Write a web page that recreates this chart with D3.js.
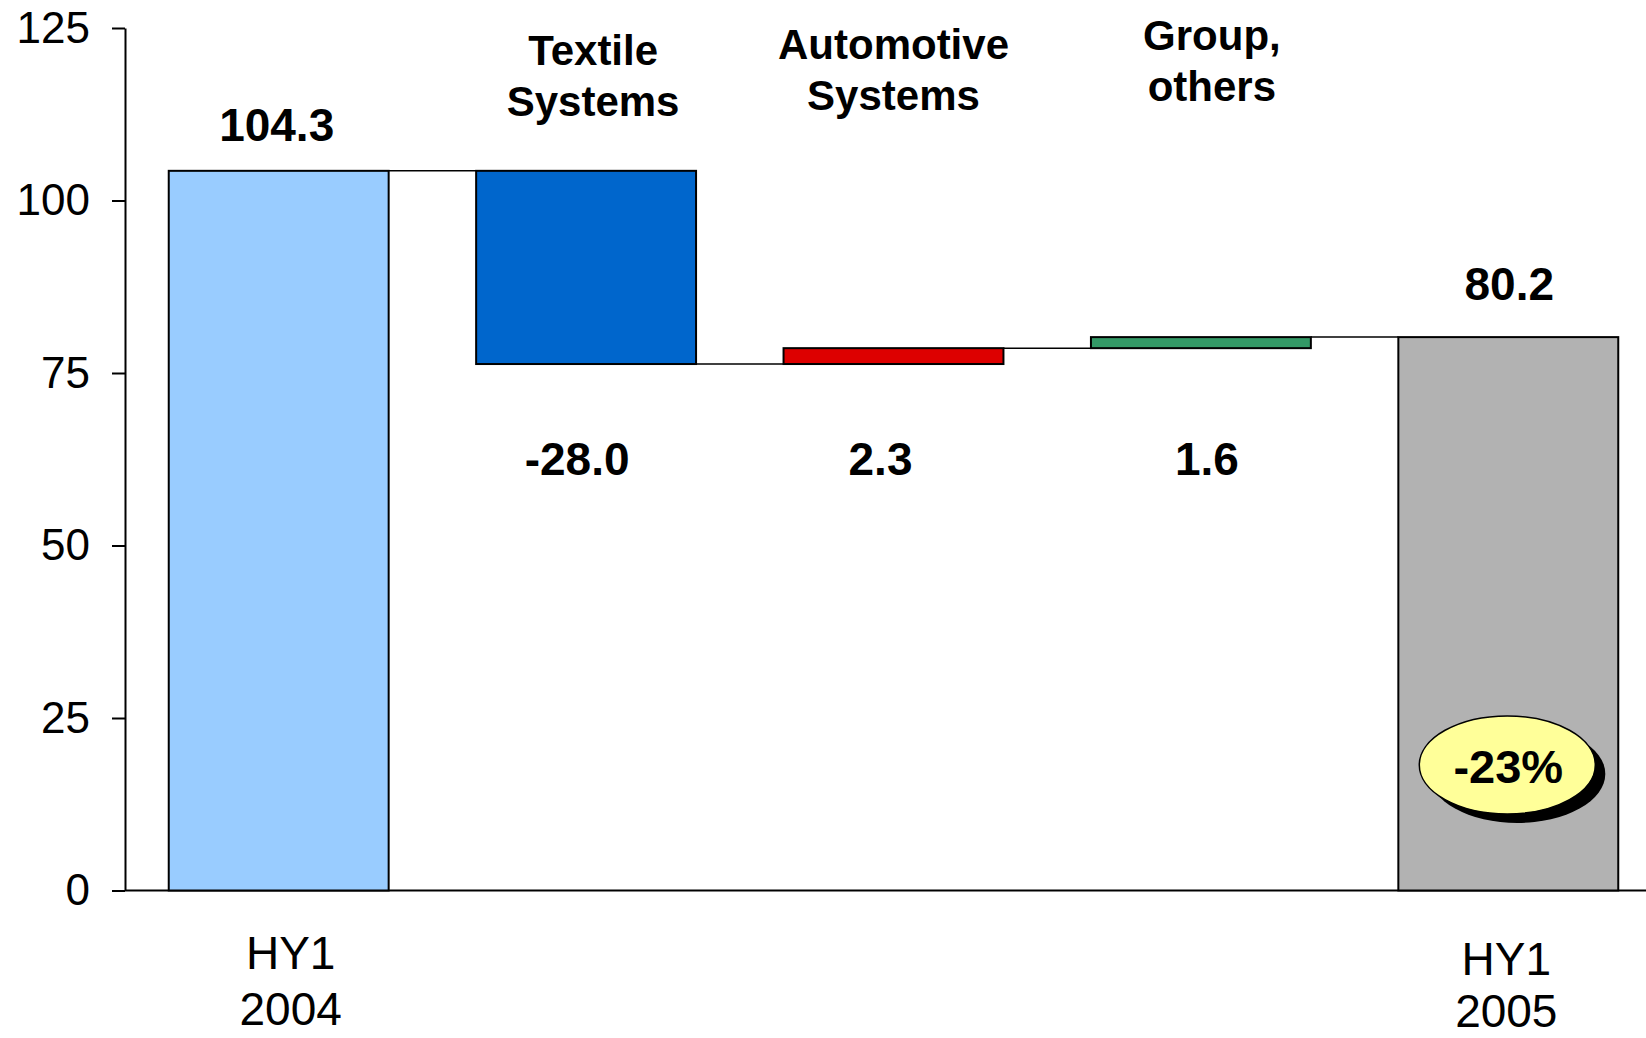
<!DOCTYPE html>
<html>
<head>
<meta charset="utf-8">
<script src="https://cdn.jsdelivr.net/npm/d3@7"></script>
<style>
  html, body { margin: 0; padding: 0; background: #ffffff; }
  svg { display: block; font-family: "Liberation Sans", Arial, Helvetica, sans-serif; }
</style>
</head>
<body>
<svg id="chart" width="1646" height="1038"></svg>
<script>
// ---- data ----
const categories = ["HY1 2004", "Textile Systems", "Automotive Systems", "Group, others", "HY1 2005"];
const categoryLines = [["HY1", "2004"], ["Textile", "Systems"], ["Automotive", "Systems"], ["Group,", "others"], ["HY1", "2005"]];
const barKinds = ["total", "delta", "delta", "delta", "total"];
const values = [104.3, -28.0, 2.3, 1.6, 80.2];
const yTicks = [0, 25, 50, 75, 100, 125];
const changeLabel = "-23%";

// ---- styling / layout ----
const width = 1646, height = 1038;
const fills = ["#99CCFF", "#0066CC", "#DD0000", "#339966", "#B2B2B2"];
const fontStack = '"Liberation Sans", Arial, Helvetica, sans-serif';

// small hand nudges for the text boxes around each bar
const nameDx = [12, 7, 0, 11, -2];        // category name offsets
const nameBaseline = [969, 65, 59, 50, 975];
const nameLineGap = [56, 51, 51, 51, 52];
const valueDx = [-2, -9, -13, 6, 1];      // value label offsets
const totalLabelGap = [30, 37];            // gap between total bar top and its value
const deltaLabelBaseline = 475;

const svg = d3.select("#chart");

const x = d3.scaleBand()
  .domain(categories)
  .range([125, 1662])
  .paddingInner(0.2846)
  .paddingOuter(0.1423);

const y = d3.scaleLinear()
  .domain([0, 125])
  .range([890.5, 28]);

const fmt = d3.formatLocale({ decimal: ".", thousands: ",", grouping: [3], currency: ["", ""], minus: "-" }).format(".1f");

// waterfall geometry: start/end level of every bar
let running = 0;
const bars = categories.map((c, i) => {
  let lo, hi, end;
  if (barKinds[i] === "total") {
    lo = 0; hi = values[i]; end = values[i];
  } else {
    const start = running;
    end = start + values[i];
    lo = Math.min(start, end); hi = Math.max(start, end);
  }
  running = end;
  return { cat: c, i, lo, hi, end, value: values[i], kind: barKinds[i] };
});

// ---- connectors between consecutive bars ----
svg.append("g")
  .selectAll("line")
  .data(bars.slice(0, -1))
  .join("line")
  .attr("x1", d => x(d.cat) + x.bandwidth())
  .attr("x2", d => x(categories[d.i + 1]))
  .attr("y1", d => y(d.end))
  .attr("y2", d => y(d.end))
  .attr("stroke", "#000")
  .attr("stroke-width", 1.5);

// ---- x baseline ----
svg.append("line")
  .attr("x1", 125).attr("x2", width)
  .attr("y1", y(0)).attr("y2", y(0))
  .attr("stroke", "#000").attr("stroke-width", 2);

// ---- bars ----
svg.append("g")
  .selectAll("rect")
  .data(bars)
  .join("rect")
  .attr("x", d => x(d.cat))
  .attr("width", x.bandwidth())
  .attr("y", d => y(d.hi))
  .attr("height", d => y(d.lo) - y(d.hi))
  .attr("fill", (d, i) => fills[i])
  .attr("stroke", "#000")
  .attr("stroke-width", 2);

// ---- y axis ----
const yAxis = svg.append("g")
  .attr("transform", "translate(125,0)")
  .call(d3.axisLeft(y).tickValues(yTicks).tickSize(13).tickSizeOuter(0).tickPadding(22));
yAxis.select(".domain").attr("stroke", "#000").attr("stroke-width", 2);
yAxis.selectAll(".tick line").attr("stroke", "#000").attr("stroke-width", 2);
yAxis.selectAll(".tick text")
  .attr("fill", "#000")
  .style("font-family", fontStack)
  .style("font-size", "44px");

// ---- value labels ----
svg.append("g")
  .selectAll("text")
  .data(bars)
  .join("text")
  .attr("text-anchor", "middle")
  .attr("x", d => x(d.cat) + x.bandwidth() / 2 + valueDx[d.i])
  .attr("y", d => d.kind === "total"
    ? y(d.hi) - totalLabelGap[d.i === 0 ? 0 : 1]
    : deltaLabelBaseline)
  .style("font-family", fontStack)
  .style("font-size", "46px")
  .style("font-weight", "bold")
  .text(d => fmt(d.value));

// ---- category names ----
const names = svg.append("g")
  .selectAll("text")
  .data(bars)
  .join("text")
  .attr("text-anchor", "middle")
  .attr("x", d => x(d.cat) + x.bandwidth() / 2 + nameDx[d.i])
  .attr("y", d => nameBaseline[d.i])
  .style("font-family", fontStack)
  .style("font-size", d => d.kind === "total" ? "46px" : "42px")
  .style("font-weight", d => d.kind === "total" ? "normal" : "bold");

names.selectAll("tspan")
  .data(d => categoryLines[d.i].map((t, k) => ({ t, k, d })))
  .join("tspan")
  .attr("x", e => x(e.d.cat) + x.bandwidth() / 2 + nameDx[e.d.i])
  .attr("dy", e => e.k === 0 ? 0 : nameLineGap[e.d.i])
  .text(e => e.t);

// ---- change bubble on the final bar ----
const last = bars[bars.length - 1];
const bx = x(last.cat) + x.bandwidth() / 2 - 1;
const by = y(18.2);
const bubble = svg.append("g");
bubble.append("ellipse")
  .attr("cx", bx + 10).attr("cy", by + 9)
  .attr("rx", 88).attr("ry", 49)
  .attr("fill", "#000");
bubble.append("ellipse")
  .attr("cx", bx).attr("cy", by)
  .attr("rx", 88).attr("ry", 49)
  .attr("fill", "#FFFF99")
  .attr("stroke", "#000")
  .attr("stroke-width", 1.5);
bubble.append("text")
  .attr("x", bx + 1).attr("y", by + 18)
  .attr("text-anchor", "middle")
  .style("font-family", fontStack)
  .style("font-size", "47px")
  .style("font-weight", "bold")
  .text(changeLabel);
</script>
</body>
</html>
